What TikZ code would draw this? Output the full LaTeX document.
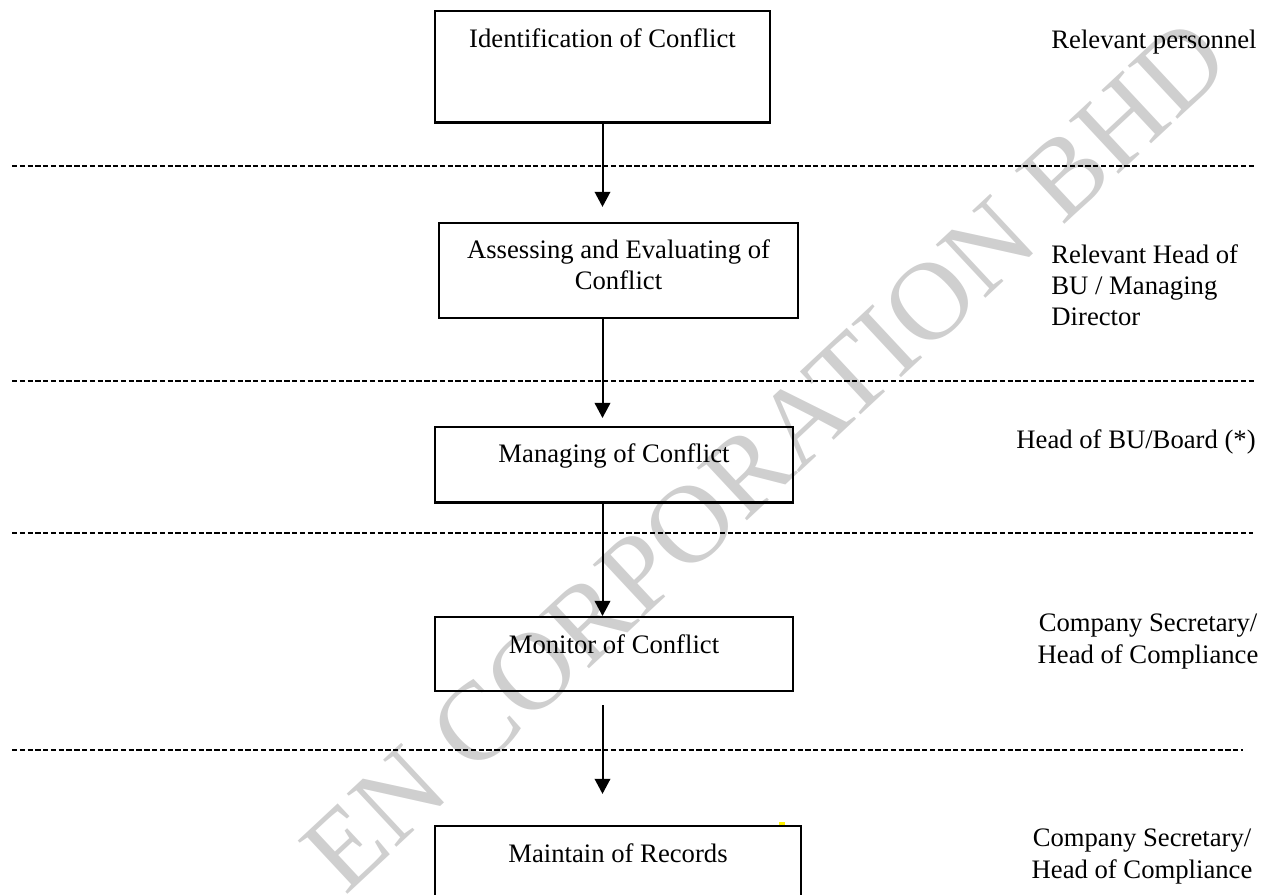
\documentclass[tikz,border=0pt]{standalone}
\usepackage{fontspec}
\setmainfont{Liberation Serif}
\usepackage{xcolor}
\usepackage{tikz}
\usetikzlibrary{arrows.meta}
\tikzset{
  stepbox/.style={
    draw,
    line width=1.1pt,
    inner xsep=0pt,
    inner ysep=0pt,
    align=center,
    anchor=north
  },
  rolelabel/.style={
    inner sep=0pt,
    align=left,
    anchor=base west
  },
  sepline/.style={
    line width=0.7pt,
    dash pattern=on 2.4pt off 1.1pt
  },
  every edge/.style={draw, -{Triangle[length=6.8pt,width=7pt]}, line width=0.9pt}
}

\begin{document}
\begin{tikzpicture}[x=0.45pt,y=-0.45pt,font=\fontsize{12}{14}\selectfont]
  \useasboundingbox (0,0) rectangle (1270,895);

  % watermark
  \node[rotate=43, text=black!19, font=\fontsize{50}{60}\selectfont] (mark) at (765,455) {EN CORPORATION BHD};

  % separators
  \foreach \y/\xe in {166/1255, 381/1255, 533/1253, 750/1243}
    \draw[sepline] (12,\y) -- (\xe,\y);

  \node[stepbox, minimum width=150.8pt, text height=16.2pt, text depth=33.8pt] (ident) at (602.5,10) {Identification of Conflict};
  \node[stepbox, minimum width=161.6pt, text height=29.7pt, text depth=13pt] (assess) at (618.5,222) {Assessing and Evaluating of\\Conflict};
  \node[stepbox, minimum width=161.1pt, text height=15.8pt, text depth=18pt] (mng) at (614,426) {Managing of Conflict};
  \node[stepbox, minimum width=161.1pt, text height=16.2pt, text depth=17.1pt] (mon) at (614,616) {Monitor of Conflict};
  \node[stepbox, minimum width=164.7pt, text height=16.2pt, text depth=26pt] (rec) at (618,825) {Maintain of Records};
  \fill[yellow] (779,822) rectangle (785,825);

  \node[rolelabel] (who1) at (1051,49) {Relevant personnel};
  \node[rolelabel] (who2) at (1051,326) {Relevant Head of\\BU / Managing\\Director};
  \node[rolelabel] (who3) at (1016,449) {Head of BU/Board (*)};
  \node[rolelabel, align=center, anchor=base] (who4) at (1148,663) {Company Secretary/\\Head of Compliance};
  \node[rolelabel, align=center, anchor=base] (who5) at (1142,878) {Company Secretary/\\Head of Compliance};

  \path (ident.south) edge[shorten >=6.8pt] (ident.south |- assess.north)
        (ident.south |- assess.south) edge[shorten >=3.6pt] (ident.south |- mng.north)
        (ident.south |- mng.south) edge (ident.south |- mon.north)
        (ident.south |- mon.south) edge[shorten <=5.8pt, shorten >=14pt] (ident.south |- rec.north);
\end{tikzpicture}
\end{document}
